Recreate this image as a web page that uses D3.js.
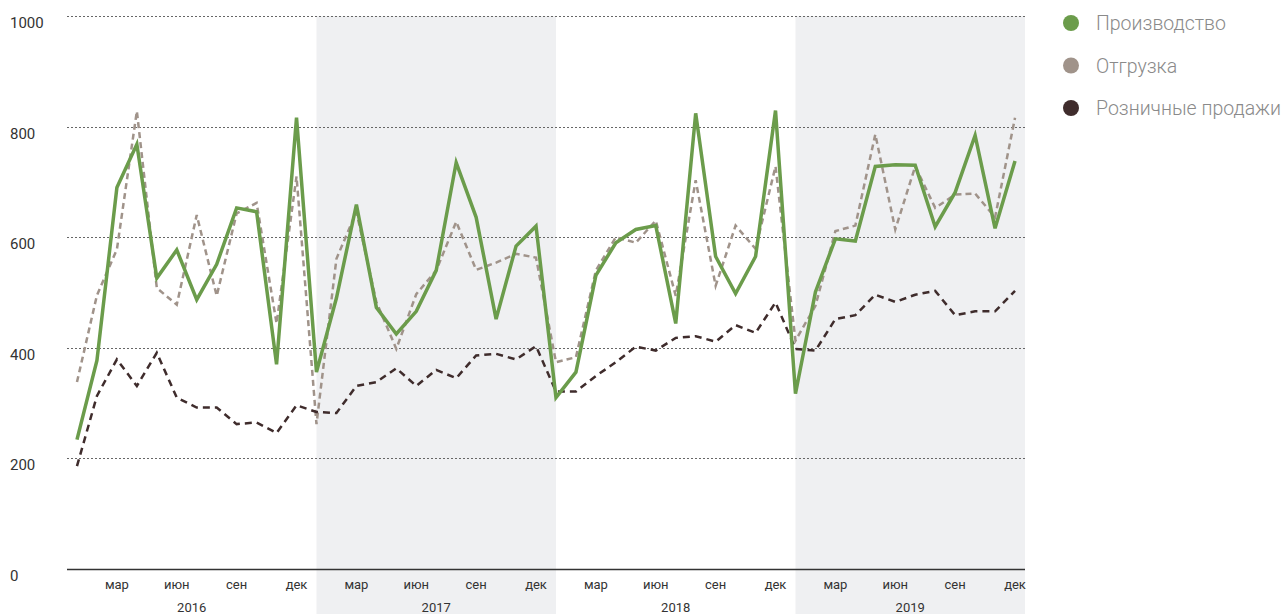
<!DOCTYPE html>
<html>
<head>
<meta charset="utf-8">
<script src="https://cdnjs.cloudflare.com/ajax/libs/d3/7.8.5/d3.min.js"></script>
<style>
  body { margin: 0; background: #fff; }
  svg { display: block; font-family: Roboto, "DejaVu Sans", sans-serif; }
</style>
</head>
<body>
<div id="graph"></div>
<script>
(function(){
  "use strict";

  // data, monthly 2016-01 .. 2019-12
  var years = ["2016", "2017", "2018", "2019"];
  var monthNames = ["янв","фев","мар","апр","май","июн","июл","авг","сен","окт","ноя","дек"];
  var tickMonths = ["мар","июн","сен","дек"];
  var yTicks = [0, 200, 400, 600, 800, 1000];
  var seriesNames = ["Производство", "Отгрузка", "Розничные продажи"];

  var production = [
    234, 377, 690, 768, 526, 577, 487, 551, 653, 646, 370, 816,
    356, 490, 659, 473, 425, 466, 540, 735, 636, 452, 584, 620,
    310, 356, 531, 590, 614, 621, 444, 824, 565, 498, 565, 829,
    317, 501, 597, 593, 728, 731, 730, 619, 681, 784, 616, 738
  ];
  var shipment = [
    338, 495, 578, 828, 508, 478, 640, 494, 643, 662, 444, 710,
    262, 561, 646, 483, 398, 497, 540, 628, 541, 554, 570, 563,
    374, 383, 540, 600, 590, 630, 494, 703, 512, 621, 579, 728,
    413, 476, 611, 621, 786, 614, 728, 653, 677, 679, 636, 816
  ];
  var retail = [
    186, 313, 379, 331, 391, 310, 292, 292, 262, 265, 246, 296,
    284, 282, 331, 338, 363, 331, 360, 345, 386, 389, 379, 403,
    321, 321, 349, 374, 402, 395, 418, 421, 411, 441, 427, 482,
    398, 395, 452, 459, 496, 483, 496, 503, 459, 466, 466, 503
  ];

  var colors = ["#6b9c4b", "#a0938a", "#3f2c2c"];

  var W = 1287, H = 614;
  var left = 67, right = 1025, top = 16, bottom = 569;

  var svg = d3.select("#graph").append("svg")
      .attr("width", W)
      .attr("height", H);

  var keys = [];
  years.forEach(function(yr) {
    monthNames.forEach(function(m) { keys.push(yr + "-" + m); });
  });

  var x = d3.scalePoint()
      .domain(keys)
      .range([left, right])
      .padding(0.5);

  var y = d3.scaleLinear()
      .domain([0, 1000])
      .range([bottom, top]);

  // year bands, shaded every second year
  var bands = years.map(function(yr, i) {
    var x0 = i === 0 ? left : x(yr + "-янв");
    var x1 = i === years.length - 1 ? right : x(years[i + 1] + "-янв");
    return { year: yr, x0: x0, x1: x1, shade: i % 2 === 1 };
  });

  svg.selectAll(".band")
    .data(bands.filter(function(d) { return d.shade; }))
    .enter().append("rect")
      .attr("class", "band")
      .attr("x", function(d) { return d.x0; })
      .attr("y", top)
      .attr("width", function(d) { return d.x1 - d.x0; })
      .attr("height", H - top)
      .attr("fill", "#eff0f2");

  // grid lines
  svg.selectAll(".grid")
    .data(yTicks.filter(function(d) { return d > 0; }))
    .enter().append("line")
      .attr("class", "grid")
      .attr("x1", left)
      .attr("x2", right)
      .attr("y1", function(d) { return Math.round(y(d)) + 0.5; })
      .attr("y2", function(d) { return Math.round(y(d)) + 0.5; })
      .attr("stroke", "#666")
      .attr("stroke-width", 1)
      .attr("stroke-dasharray", "2,2");

  // y labels
  svg.selectAll(".ylab")
    .data(yTicks)
    .enter().append("text")
      .attr("class", "ylab")
      .attr("x", 10)
      .attr("y", function(d) { return y(d) + 12; })
      .attr("font-size", "15px")
      .attr("fill", "#333")
      .text(function(d) { return d; });

  // lines
  var line = d3.line()
      .x(function(d, i) { return x(keys[i]); })
      .y(function(d) { return y(d); });

  svg.append("path")
      .datum(shipment)
      .attr("d", line)
      .attr("fill", "none")
      .attr("stroke", colors[1])
      .attr("stroke-width", 2.5)
      .attr("stroke-dasharray", "6,4");

  svg.append("path")
      .datum(retail)
      .attr("d", line)
      .attr("fill", "none")
      .attr("stroke", colors[2])
      .attr("stroke-width", 2.5)
      .attr("stroke-dasharray", "7,5");

  svg.append("path")
      .datum(production)
      .attr("d", line)
      .attr("fill", "none")
      .attr("stroke", colors[0])
      .attr("stroke-width", 3.5)
      .attr("stroke-linejoin", "miter");

  // x axis line
  svg.append("line")
      .attr("x1", left)
      .attr("x2", right)
      .attr("y1", bottom + 0.5)
      .attr("y2", bottom + 0.5)
      .attr("stroke", "#333")
      .attr("stroke-width", 1.5);

  // month labels
  svg.selectAll(".mlab")
    .data(keys.filter(function(k) { return tickMonths.indexOf(k.split("-")[1]) >= 0; }))
    .enter().append("text")
      .attr("class", "mlab")
      .attr("x", function(d) { return x(d); })
      .attr("y", 589)
      .attr("text-anchor", "middle")
      .attr("font-size", "13px")
      .attr("fill", "#333")
      .text(function(d) { return d.split("-")[1]; });

  // year labels
  svg.selectAll(".ylabyear")
    .data(bands)
    .enter().append("text")
      .attr("class", "ylabyear")
      .attr("x", function(d) { return (d.x0 + d.x1) / 2; })
      .attr("y", 612)
      .attr("text-anchor", "middle")
      .attr("font-size", "13px")
      .attr("fill", "#333")
      .text(function(d) { return d.year; });

  // legend
  var legend = svg.selectAll(".legend")
    .data(seriesNames)
    .enter().append("g")
      .attr("class", "legend")
      .attr("transform", function(d, i) { return "translate(1071," + (23 + i * 42.5) + ")"; });

  legend.append("circle")
      .attr("r", 8)
      .attr("fill", function(d, i) { return colors[i]; });

  legend.append("text")
      .attr("x", 25)
      .attr("y", 7)
      .attr("font-size", "19.5px")
      .attr("font-weight", 300)
      .attr("fill", "#8a8a8a")
      .text(function(d) { return d; });
})();
</script>
</body>
</html>
